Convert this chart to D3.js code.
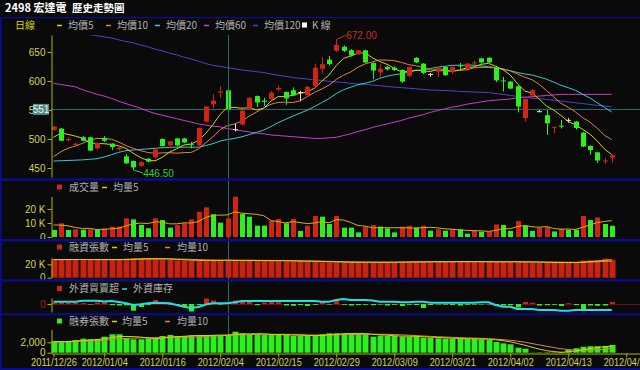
<!DOCTYPE html>
<html>
<head>
<meta charset="utf-8">
<script src="https://cdn.jsdelivr.net/npm/d3@7"></script>
<style>
  html, body { margin: 0; padding: 0; background: #0a0a0a; }
  svg { display: block; }
  text { font-family: "Liberation Sans", Arial, sans-serif; }
  .cjk { font-family: "Noto Sans CJK TC", "Noto Sans CJK SC", sans-serif; }
</style>
</head>
<body>
<div id="chart"></div>
<script>
// ---- data ----
const tickIdx = [0, 7, 15, 23, 31, 39, 47, 55, 63, 71, 79];
const tickDates = ["2011/12/26", "2012/01/04", "2012/01/16", "2012/02/04", "2012/02/15", "2012/02/29",
  "2012/03/09", "2012/03/21", "2012/04/02", "2012/04/13", "2012/04/25"];

const open = [516,518,498,490,503,503,484,502,492,482,470,462,454,466,469,500,489,501,501,491,
  489,530,560,580,584,517,525,552,574,566,569,585,581,584,581,576,591,621,637,652,
  659,653,646,653,631,615,624,623,619,609,640,630,612,616,624,616,627,622,631,639,
  640,623,601,599,591,536,575,548,541,520,523,533,530,511,488,477,462,468];
const high = [523,519,503,494,505,504,494,505,493,489,474,463,462,467,484,501,497,502,502,495,
  520,557,577,591,585,527,550,572,575,571,583,592,582,589,583,591,630,641,643,672,
  661,655,654,654,632,629,626,625,620,625,641,631,614,624,625,625,631,631,635,640,
  641,624,607,600,592,570,586,550,550,521,533,536,531,512,489,478,467,473];
const low = [514,496,496,487,496,479,481,495,481,480,457,446.5,452,460,466,487,484,487,493,484,
  488,528,553,571,550,513,523,551,555,557,568,582,559,574,565,575,589,614,627,650,
  650,642,645,631,603,607,618,617,597,607,631,612,607,607,609,612,621,621,628,630,
  631,598,582,586,546,530,569,546,507,510,518,528,516,486,473,459,457,459];
const close = [521,497,500,492,497,480,493,497,486,485,458,451,460,461,482,488,496,489,494,490,
  519,556,566,582,551,517,549,571,563,564,580,588,570,575,581,590,623,629,629,662,
  652,644,653,632,618,621,620,619,599,624,632,614,612,623,610,624,626,630,632,632,
  632,601,600,587,556,569,584,548,527,521,522,533,519,487,481,463,463,472];

const ma5 = [503,510,508,505,501.4,493.2,492.4,491.8,490.6,488.2,483.8,475.4,468,463,462.4,468.4,477.4,483.2,489.8,491.4,
  497.6,509.6,525,542.6,554.8,554.4,553,554,550.2,552.8,565.4,573.2,573,575.4,578.8,580.8,587.8,599.6,610.4,626.6,
  639,643.2,648,648.6,639.8,633.6,628.8,622,615.4,616.6,618.8,617.6,616.2,621,618.2,616.6,619,622.6,624.4,628.8,
  630.4,625.4,619.4,610.4,595.2,582.6,579.2,568.8,556.8,549.8,540.4,530.2,524.4,516.4,508.4,496.6,482.6,473.2];
const ma10 = [469.6,478,484,488,492.5,498,501,501,499.5,494.8,488.5,483.9,479.9,476.8,475.3,476.1,476.4,475.6,476.4,476.9,
  483,493.5,504.1,516.2,523.1,526,531.3,539.5,546.4,553.8,559.9,563.1,563.5,562.8,565.8,573.1,580.5,586.3,592.9,602.7,
  609.9,615.5,623.8,629.5,633.2,636.3,636,635,632,628.2,626.2,623.2,619.1,618.2,617.4,617.7,618.3,619.4,622.7,623.5,
  623.5,622.2,621,617.4,612,606.5,602.3,594.1,583.6,572.5,561.5,554.7,546.6,536.6,529.1,518.5,506.4,498.8];
const ma20 = [462,462.5,463,463.5,464,465,466,469,473,477,480,481,482,483,484,485,485.5,486,486,485.9,
  485.8,488.7,492,496.5,499.2,501,503.9,507.6,511.4,515.4,521.5,528.3,533.8,539.5,544.5,549.6,555.9,562.9,569.7,578.3,
  584.9,589.3,593.7,596.2,599.5,604.7,608.3,610.7,612.5,615.5,618.1,619.4,621.5,623.9,625.3,627,627.2,627.2,627.4,625.9,
  624.9,622.7,620.1,617.8,614.7,612.1,610.3,606.8,603.2,598,592.5,588.5,583.8,577,570.6,562.5,554.4,546.5];
const ma60 = [596,594,592,590,585,581,577,574,570,565,561,557,553,548,544,541,538,535,532,529,
  526,524,522,521,518,516,514,512,510,509,507,506,505,504,503,502,501,501,502,503,
  506,509,513,516,520,523,526,529,532,536,539,542,546,549,552,555,557,560,562,564,
  566,567,568,569,571,572,573,574,575,576,577,577,577,577,577,577,577,577];
const ma120 = [700,696,692,688,684,680,678,676,674,671,668,666,662,659,655,652,648,645,641,638,
  634,630,627,625,623,621,619,617.5,616,614.5,612,610,608,606,604.5,603.5,602,601,599.5,598.5,
  597.5,596,595,594,593,592,590.5,589.5,588.5,587.5,586.5,585.5,584.5,584,583.5,583,582,581.5,581,580.5,
  580,578.5,577,575,573.5,572,570.5,569.5,568,567,565.5,564,562.5,561,559.5,558,557,555.5];

const volume = [5000,9800,5000,5500,5200,5500,5200,6200,7400,7500,13300,12600,8600,6200,13300,12100,6700,8600,9800,12600,
  18000,21200,16200,10200,13300,28800,16400,14500,8100,8100,11400,12900,9800,12900,4300,8100,15000,14500,9300,15000,
  6700,6700,3300,7400,8600,7400,6200,3300,7400,8000,6700,8000,4500,5500,4500,5700,5500,2400,4500,3800,
  4000,9000,8600,4300,11400,8100,4300,6700,7100,4000,5700,5200,5200,15000,12100,14000,9300,8000];
const volMa5 = [8600,8500,8000,6800,6100,6200,5300,5500,5900,6300,7900,9400,9900,9600,10800,10600,9400,9400,10100,10000,
  11100,14000,15600,15600,15800,17900,17000,16600,16200,15200,11700,11000,10100,11000,10300,9600,10000,11000,10200,12400,
  12100,10400,8200,7800,6500,6700,6600,6600,6600,6500,6300,6700,6900,6500,5800,5600,5100,4700,4500,4400,
  4000,4700,6000,5900,7500,8300,7300,7000,7500,6000,5600,5700,5400,7000,8600,10300,11100,11700];

const margin = [27200,27300,27100,27200,27000,27000,26900,27100,27000,26800,28300,29000,29100,28700,27600,27400,27500,25900,25800,25700,
  25800,25900,25700,26500,26400,25500,25400,25600,25500,25400,25500,25300,24600,24500,24400,24500,24300,23200,23000,23100,
  23000,23100,23200,23100,23000,23200,23100,23000,23800,23900,23800,23900,23900,24000,23900,23800,23900,24000,23900,23700,
  23600,23700,23800,23700,23600,23700,22600,22500,22700,22600,22500,22600,22700,25500,26000,26600,28500,27000];
const marginMa5 = [27000,27100,27100,27200,27200,27100,27000,27000,27000,27000,27200,27600,28000,28400,28500,28400,28100,27400,26800,26300,
  25900,25800,25800,25900,26100,26000,25900,25900,25700,25500,25500,25400,25300,25100,24800,24600,24500,24200,23800,23600,
  23300,23100,23100,23100,23100,23100,23100,23100,23200,23400,23600,23700,23900,23900,23900,23900,23900,23900,23900,23900,
  23800,23700,23700,23700,23700,23700,23500,23300,23000,22800,22600,22600,22600,23200,23900,24700,25900,26700];
const marginMa10 = [27000,27000,27000,27000,27100,27100,27100,27100,27100,27100,27200,27400,27600,27800,27800,27900,28000,27800,27600,27300,
  27000,26600,26300,26100,26000,25900,25900,25900,25900,25800,25700,25700,25600,25400,25200,25000,24900,24700,24400,24200,
  23900,23700,23500,23300,23200,23100,23100,23100,23200,23300,23400,23400,23500,23600,23700,23800,23900,23900,23900,23900,
  23900,23800,23800,23800,23800,23700,23600,23500,23400,23300,23200,23100,23000,23100,23300,23600,24200,24700];

const foreignNet = [1200,1500,1000,1300,800,-500,1500,1800,-1200,-1500,-1300,-6700,-3000,-800,4000,800,-500,-1000,-2000,-7500,
  -1200,5500,3500,-600,500,3500,3000,2000,-1200,1500,2500,1800,-1500,-1800,-1000,-2000,-800,2500,-600,4500,
  -800,-1500,-1000,-800,-1200,-600,-1500,-800,-2000,-800,-1000,-4000,-1000,-500,-700,-1000,-1500,-800,-600,-500,
  -400,-2000,-1500,-1200,-3500,2000,1200,-1500,-1200,-800,-2000,800,-1200,-5000,-1500,-1800,-1500,2000];
const foreignHold = [403.5,403.5,403.5,403.5,405.6,405.6,405.6,404,405,402.9,400.2,396.7,398.1,400.2,401.5,400.8,400.2,396.7,393.1,390.4,
  392.5,397.7,400.2,400.2,400.2,402.3,405,405,405,405,405,405,405,405,405,405,405,403.5,403.5,407.1,
  409.2,407.1,407.1,407.1,406,403.5,403.5,403.5,402.3,402.3,403.5,403.5,401.5,401.5,401.5,401.5,401.5,401.5,401.5,402.3,
  402.3,396.7,393.1,393.1,388.3,388.3,388.3,386.3,386.3,386.3,384.8,384.8,386.3,386.3,386.3,386.3,386.3,386.3];

const shortBal = [2250,2100,2100,2440,2700,2600,2650,3080,3540,3540,2770,2580,2580,2770,2770,3210,3400,3210,3210,3300,
  3400,3400,3400,3400,3400,4040,3730,3540,3540,3400,3400,3540,3400,3210,3210,3210,3400,3540,3730,3730,
  3730,3730,3600,3600,3080,3300,3210,3210,3080,3080,3080,2880,2880,2770,2700,2700,2650,2650,2650,2580,
  2440,2060,1800,1620,960,770,50,80,80,80,120,520,850,1150,1250,1250,1300,1480];
const shortMa5 = [2100,2150,2150,2250,2318,2388,2498,2694,2914,3082,3116,3102,3002,2848,2694,2782,2946,3072,3160,3266,
  3304,3304,3342,3380,3400,3528,3594,3622,3650,3650,3522,3484,3456,3390,3352,3314,3286,3314,3418,3522,
  3626,3692,3704,3678,3548,3462,3358,3280,3176,3176,3132,3066,3000,2938,2862,2786,2740,2694,2670,2646,
  2594,2476,2306,2100,1776,1442,1040,696,388,212,82,176,330,544,778,1004,1160,1286];
const shortMa10 = [2000,2050,2100,2150,2200,2250,2300,2400,2550,2700,2752,2800,2848,2881,2888,2949,3024,3037,3004,2980,
  3043,3125,3207,3270,3333,3416,3449,3482,3515,3525,3525,3539,3539,3520,3501,3418,3385,3385,3404,3437,
  3470,3489,3509,3548,3535,3544,3525,3492,3427,3362,3297,3212,3140,3057,3019,2959,2903,2847,2804,2754,
  2690,2608,2500,2385,2211,2018,1758,1501,1244,994,762,608,513,466,495,543,668,808];

const cursorIdx = 24;
const cursorPrice = 551;

// ---- colours ----
const RED = "#d22412", GREEN = "#2cf01e", DOJI = "#dcdcdc";
const C_MA5 = "#d8d400", C_MA10 = "#e08050", C_MA20 = "#3cc8c8", C_MA60 = "#c83cc8", C_MA120 = "#4646c8";
const AXIS = "#b4b400", LABEL = "#d2d25a", LEGEND = "#b0b0b0", FRAME = "#0c0c92";

const W = 640, H = 370;
const svg = d3.select("#chart").append("svg").attr("width", W).attr("height", H);
svg.append("rect").attr("width", W).attr("height", H).attr("fill", "#0a0a0a");

const xs = d3.scaleLinear().domain([0, 79]).range([53.5, 626.25]);
const xAxisScale = xs.copy().domain([xs.invert(51), xs.invert(640)]).range([51, 640]);
const idx = d3.range(close.length);

function styleAxis(g, color) {
  g.select(".domain").attr("stroke", AXIS);
  g.selectAll(".tick line").attr("stroke", AXIS);
  g.selectAll(".tick text").attr("fill", color || LABEL).attr("font-size", 10)
    .attr("font-family", "'Liberation Sans', Arial, sans-serif");
}

function legend(y, items) {
  const g = svg.append("g");
  items.forEach(function (it) {
    if (it.dash) {
      g.append("line").attr("x1", it.x).attr("x2", it.x + 5).attr("y1", y + 0.5).attr("y2", y + 0.5)
        .attr("stroke", it.dash).attr("stroke-width", 1.5);
    } else if (it.square) {
      g.append("rect").attr("x", it.x).attr("y", y - 2.5).attr("width", 5).attr("height", 5).attr("fill", it.square);
    } else {
      g.append("text").attr("class", "cjk").attr("x", it.x).attr("y", y + 3.6)
        .attr("font-size", 10).attr("fill", it.color || LEGEND).text(it.text);
    }
  });
}

// ---- title ----
svg.append("text").attr("class", "cjk").attr("x", 5).attr("y", 11.5).attr("font-size", 11)
  .attr("font-weight", "bold").attr("fill", "#ffffff").text("2498 宏達電");
svg.append("text").attr("class", "cjk").attr("x", 72).attr("y", 11.5).attr("font-size", 10.5)
  .attr("font-weight", "bold").attr("fill", "#ffffff").text("歷史走勢圖");

// ---- price panel ----
const yP = d3.scaleLinear().domain([434.5, 679.3]).range([177, 35]);
svg.append("clipPath").attr("id", "clipP").append("rect").attr("x", 51).attr("y", 35).attr("width", 589).attr("height", 143);

legend(25, [
  {x: 15, text: "日線", color: "#d8d800"},
  {x: 57, dash: C_MA5}, {x: 68, text: "均價5"},
  {x: 106, dash: C_MA10}, {x: 117, text: "均價10"},
  {x: 155, dash: C_MA20}, {x: 166, text: "均價20"},
  {x: 204, dash: C_MA60}, {x: 215, text: "均價60"},
  {x: 253, dash: C_MA120}, {x: 264, text: "均價120"},
  {x: 302, square: "#ffffff"}, {x: 312, text: "K 線"}
]);

const gP = svg.append("g").attr("clip-path", "url(#clipP)");
// crosshair
const cx = Math.round(xs(cursorIdx)) + 0.5;
gP.append("line").attr("x1", 51).attr("x2", 640).attr("y1", yP(cursorPrice)).attr("y2", yP(cursorPrice))
  .attr("stroke", "#2f6a6a").attr("stroke-width", 1);
svg.append("line").attr("x1", cx).attr("x2", cx).attr("y1", 35).attr("y2", 353)
  .attr("stroke", "#2f6a6a").attr("stroke-width", 1);

const priceLine = d3.line().x(function (d, i) { return xs(i); }).y(function (d) { return yP(d); });
[[ma120, C_MA120], [ma60, C_MA60], [ma20, C_MA20], [ma10, C_MA10], [ma5, C_MA5]].forEach(function (s) {
  gP.append("path").datum(s[0]).attr("d", priceLine).attr("fill", "none").attr("stroke", s[1]).attr("stroke-width", 1);
});

function candleColor(i) {
  return close[i] > open[i] ? RED : (close[i] < open[i] ? GREEN : DOJI);
}
gP.selectAll(".wick").data(idx).enter().append("line")
  .attr("x1", function (i) { return Math.round(xs(i)) + 0.5; })
  .attr("x2", function (i) { return Math.round(xs(i)) + 0.5; })
  .attr("y1", function (i) { return yP(high[i]); })
  .attr("y2", function (i) { return yP(low[i]); })
  .attr("stroke", candleColor).attr("stroke-width", 1);
gP.selectAll(".body").data(idx).enter().append("rect")
  .attr("x", function (i) { return Math.round(xs(i)) - 2; })
  .attr("width", 5)
  .attr("y", function (i) { return yP(Math.max(open[i], close[i])); })
  .attr("height", function (i) { return Math.max(1, Math.abs(yP(open[i]) - yP(close[i]))); })
  .attr("fill", candleColor);

// high / low notes
const hiI = d3.maxIndex(high), loI = d3.minIndex(low);
svg.append("polyline").attr("points", [[xs(hiI) + 0.5, yP(high[hiI])], [xs(hiI) + 10, yP(high[hiI]) - 4]].join(" "))
  .attr("fill", "none").attr("stroke", "#c82828");
svg.append("text").attr("x", xs(hiI) + 10).attr("y", yP(high[hiI]) - 0.5).attr("font-size", 10)
  .attr("fill", "#d22828").text(d3.format(".2f")(high[hiI]));
svg.append("polyline").attr("points", [[xs(loI) + 0.5, yP(low[loI])], [xs(loI) + 10, yP(low[loI]) + 3]].join(" "))
  .attr("fill", "none").attr("stroke", "#3cc83c");
svg.append("text").attr("x", xs(loI) + 10).attr("y", yP(low[loI]) + 7).attr("font-size", 10)
  .attr("fill", "#3cc83c").text(d3.format(".2f")(low[loI]));

const axP = svg.append("g").attr("transform", "translate(51.5,0)")
  .call(d3.axisLeft(yP).tickValues([450, 500, 550, 600, 650]).tickSize(4).tickSizeOuter(0).tickPadding(2));
styleAxis(axP);
// cursor price box (covers the 550 label, as in the source)
svg.append("rect").attr("x", 33).attr("y", yP(cursorPrice) - 5.5).attr("width", 16).attr("height", 11).attr("fill", "#4f8c8c");
svg.append("text").attr("x", 41).attr("y", yP(cursorPrice) + 3.5).attr("text-anchor", "middle")
  .attr("font-size", 10).attr("fill", "#e8f0f0").text(cursorPrice);

// ---- volume panel ----
const yV = d3.scaleLinear().domain([0, 29000]).range([237, 196.4]);
legend(187, [
  {x: 57, square: RED}, {x: 69, text: "成交量"},
  {x: 102, dash: C_MA5}, {x: 113, text: "均量5"}
]);
svg.append("g").selectAll("rect").data(idx).enter().append("rect")
  .attr("x", function (i) { return Math.round(xs(i)) - 2; })
  .attr("width", 5)
  .attr("y", function (i) { return yV(volume[i]); })
  .attr("height", function (i) { return yV(0) - yV(volume[i]); })
  .attr("fill", function (i) { return i > 0 && volume[i] > volume[i - 1] ? RED : GREEN; });
svg.append("path").datum(volMa5)
  .attr("d", d3.line().x(function (d, i) { return xs(i); }).y(function (d) { return yV(d); }))
  .attr("fill", "none").attr("stroke", "#d8b400").attr("stroke-width", 1);
const axV = svg.append("g").attr("transform", "translate(51.5,0)")
  .call(d3.axisLeft(yV).tickValues([0, 10000, 20000]).tickSize(4).tickSizeOuter(0).tickPadding(2)
    .tickFormat(function (d) { return d ? (d / 1000) + " K" : "0"; }));
styleAxis(axV);

// ---- margin panel ----
const yM = d3.scaleLinear().domain([0, 30000]).range([277.7, 257.6]);
legend(247, [
  {x: 57, square: RED}, {x: 69, text: "融資張數"},
  {x: 112, dash: C_MA5}, {x: 123, text: "均量5"},
  {x: 165, dash: C_MA10}, {x: 177, text: "均量10"}
]);
svg.append("g").selectAll("rect").data(idx).enter().append("rect")
  .attr("x", function (i) { return Math.round(xs(i)) - 2.5; })
  .attr("width", 6)
  .attr("y", function (i) { return yM(margin[i]); })
  .attr("height", function (i) { return yM(0) - yM(margin[i]); })
  .attr("fill", "#c82210");
[[marginMa10, C_MA10], [marginMa5, C_MA5]].forEach(function (s) {
  svg.append("path").datum(s[0])
    .attr("d", d3.line().x(function (d, i) { return xs(i); }).y(function (d) { return yM(d); }))
    .attr("fill", "none").attr("stroke", s[1]).attr("stroke-width", 1);
});
const axM = svg.append("g").attr("transform", "translate(51.5,0)")
  .call(d3.axisLeft(yM).tickValues([0, 20000]).tickSize(4).tickSizeOuter(0).tickPadding(2)
    .tickFormat(function (d) { return d ? (d / 1000) + " K" : "0"; }));
styleAxis(axM);

// ---- foreign panel ----
const yF = d3.scaleLinear().domain([-8000, 6000]).range([312, 298]);
const yH = d3.scaleLinear().domain([380, 430]).range([313, 289]);
legend(288.5, [
  {x: 57, square: RED}, {x: 69, text: "外資買賣超"},
  {x: 122, dash: "#20e0e8"}, {x: 133, text: "外資庫存"}
]);
svg.append("line").attr("x1", 52).attr("x2", 640).attr("y1", yF(0) + 0.5).attr("y2", yF(0) + 0.5)
  .attr("stroke", "#7a0c0c").attr("stroke-width", 1);
svg.append("g").selectAll("rect").data(idx).enter().append("rect")
  .attr("x", function (i) { return Math.round(xs(i)) - 2; })
  .attr("width", 5)
  .attr("y", function (i) { return Math.min(yF(0), yF(foreignNet[i])); })
  .attr("height", function (i) { return Math.abs(yF(foreignNet[i]) - yF(0)); })
  .attr("fill", function (i) { return foreignNet[i] >= 0 ? RED : GREEN; });
svg.append("path").datum(foreignHold)
  .attr("d", d3.line().x(function (d, i) { return xs(i); }).y(function (d) { return yH(d); }))
  .attr("fill", "none").attr("stroke", "#20e0e8").attr("stroke-width", 2);
const axF = svg.append("g").attr("transform", "translate(51.5,0)")
  .call(d3.axisLeft(yF).tickValues([0]).tickSize(4).tickSizeOuter(0).tickPadding(2));
styleAxis(axF, "#b01818");

// ---- short panel ----
const yS = d3.scaleLinear().domain([0, 4500]).range([352.7, 329.3]);
legend(321, [
  {x: 57, square: GREEN}, {x: 69, text: "融券張數"},
  {x: 112, dash: C_MA5}, {x: 122, text: "均量5"},
  {x: 165, dash: C_MA10}, {x: 177, text: "均量10"}
]);
svg.append("g").selectAll("rect").data(idx).enter().append("rect")
  .attr("x", function (i) { return Math.round(xs(i)) - 2.5; })
  .attr("width", 6)
  .attr("y", function (i) { return yS(shortBal[i]); })
  .attr("height", function (i) { return yS(0) - yS(shortBal[i]); })
  .attr("fill", GREEN);
[[shortMa10, C_MA10], [shortMa5, C_MA5]].forEach(function (s) {
  svg.append("path").datum(s[0])
    .attr("d", d3.line().x(function (d, i) { return xs(i); }).y(function (d) { return yS(d); }))
    .attr("fill", "none").attr("stroke", s[1]).attr("stroke-width", 1);
});
const axS = svg.append("g").attr("transform", "translate(51.5,0)")
  .call(d3.axisLeft(yS).tickValues([0, 2000]).tickSize(4).tickSizeOuter(0).tickPadding(2)
    .tickFormat(d3.format(",")));
styleAxis(axS);

// date axis
const axX = svg.append("g").attr("transform", "translate(0,353.5)")
  .call(d3.axisBottom(xAxisScale).tickValues(tickIdx).tickSize(4).tickSizeOuter(0).tickPadding(1.5)
    .tickFormat(function (d, i) { return tickDates[i]; }));
styleAxis(axX);
axX.selectAll(".tick text").attr("textLength", 46).attr("lengthAdjust", "spacingAndGlyphs");

// ---- blue frame lines ----
[[17, 1.2], [178.3, 2.4], [239, 2.4], [279.3, 2.2], [313.2, 2], [368, 2]].forEach(function (b) {
  svg.append("rect").attr("x", 0).attr("y", b[0]).attr("width", W).attr("height", b[1]).attr("fill", FRAME);
});
svg.append("rect").attr("x", 0).attr("y", 17).attr("width", 1.5).attr("height", H - 17).attr("fill", FRAME);
</script>
</body>
</html>
